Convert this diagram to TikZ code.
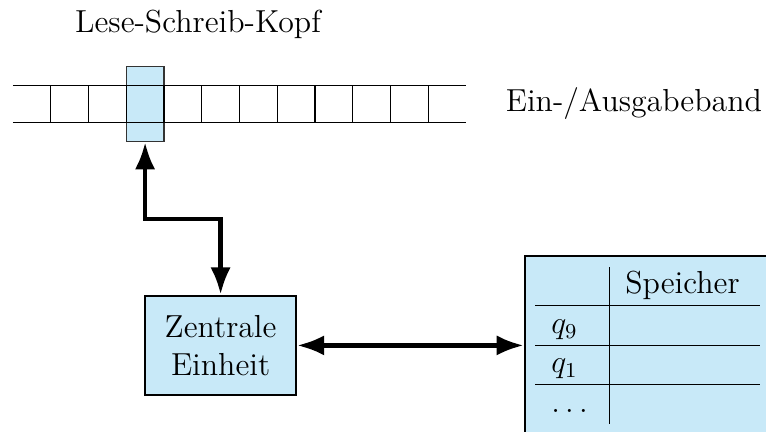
\documentclass[12pt,tikz,border=0pt]{standalone}
\usepackage{tikz}
\usetikzlibrary{shapes,arrows.meta,positioning}
\definecolor{boxblue}{RGB}{200,233,248}

\begin{document}
\begin{tikzpicture}
    % Stile fuer Kopf, Einheit, Speicher und Pfeile
    \tikzstyle{kopf} = [rectangle, minimum width=0.5cm, minimum height=1cm, inner sep=0pt, draw=black!80, fill=boxblue]
    \tikzstyle{einheit} = [rectangle, minimum width=2cm, minimum height=1.32cm, align=center, draw=black, thick, fill=boxblue]
    \tikzstyle{speicher} = [rectangle, inner sep=4pt, draw=black, thick, fill=boxblue]
    \tikzstyle{arrow} = [ultra thick, {Latex}-{Latex}]

    \useasboundingbox (-0.172,1.377) rectangle (9.974,-4.344);
    \clip (-0.172,1.377) rectangle (9.974,-4.344);

    % Band mit Kopf
    \node [kopf] (kopf) at (1.75,0) {};
    \foreach \x in {0.5,1,...,5.5}
        \draw (\x,0.25) -- (\x,-0.25);
    \draw (0,0.25) -- (6,0.25);
    \draw (0,-0.25) -- (6,-0.25);
    \coordinate (bandende) at (6,0);

    % Beschriftungen und Bloecke
    \node [above=0.215cm of kopf, xshift=0.70cm] (lsk) {Lese-Schreib-Kopf};
    \node [right=0.38cm of bandende] (band) {Ein-/Ausgabeband};
    \node [einheit, below=2.017cm of kopf, xshift=1cm] (cpu) {Zentrale\\Einheit};
    \node [speicher, right=3.0cm of cpu] (mem) {\begin{tabular}{p{0.56cm}|p{1.57cm}}
        & Speicher\\\hline
        $q_9$ & \\\hline
        $q_1$ & \\\hline
        $\dots$ &
    \end{tabular}};

    % Pfeile
    \draw [arrow] (kopf.south) -- ++(0,-1.02) -| (cpu.north);
    \draw [arrow] (cpu) -- (mem);
\end{tikzpicture}
\end{document}
